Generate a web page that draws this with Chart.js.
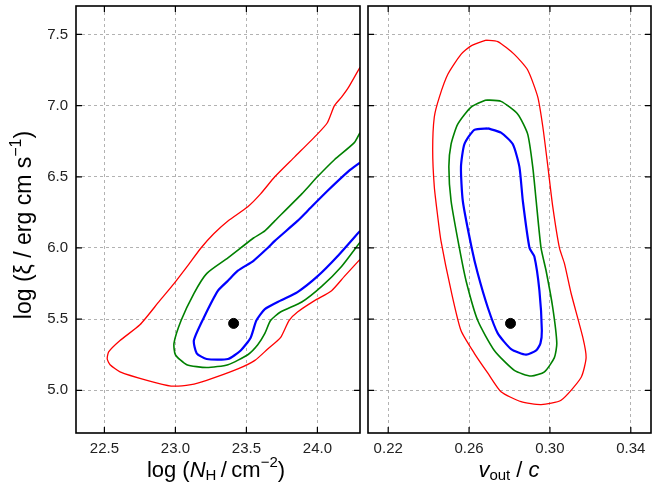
<!DOCTYPE html>
<html>
<head>
<meta charset="utf-8">
<script src="https://cdn.jsdelivr.net/npm/chart.js@4.4.1/dist/chart.umd.min.js"></script>
<style>
  body { margin:0; background:#fff; }
  #wrap { position:relative; width:668px; height:489px; }
  canvas { position:absolute; top:0; }
</style>
</head>
<body>
<div id="wrap">
  <canvas id="left" width="366" height="489" style="left:0"></canvas>
  <canvas id="right" width="306" height="489" style="left:362px"></canvas>
</div>
<script>
// tick values
const nhTicks  = [22.5, 23.0, 23.5, 24.0];
const xiTicks  = [5.0, 5.5, 6.0, 6.5, 7.0, 7.5];
const vTicks   = [0.22, 0.26, 0.30, 0.34];

// best fit
const bestNH = 23.41, bestXi = 5.47, bestV = 0.2805;

// log NH vs log xi contours
const nhRedX  = [24.30,24.22,24.17,24.12,24.07,24.00,23.84,23.70,23.60,23.51,23.37,23.27,23.18,23.09,22.99,22.89,22.75,22.61,22.53,22.52,22.54,22.61,22.80,22.97,23.11,23.22,23.44,23.56,23.65,23.74,23.80,23.86,23.98,24.10,24.19,24.30];
const nhRedY  = [7.27,7.13,7.06,7.00,6.88,6.80,6.64,6.50,6.38,6.29,6.19,6.10,6.00,5.88,5.75,5.63,5.46,5.35,5.27,5.22,5.18,5.13,5.07,5.03,5.04,5.07,5.15,5.21,5.29,5.37,5.49,5.55,5.63,5.70,5.80,5.92];
const nhGreenX = [24.30,24.26,24.12,24.00,23.89,23.70,23.63,23.55,23.46,23.37,23.22,23.13,23.04,22.99,23.00,23.08,23.22,23.37,23.51,23.58,23.63,23.67,23.74,23.89,24.03,24.17,24.30];
const nhGreenY = [6.81,6.74,6.62,6.50,6.38,6.19,6.12,6.07,6.00,5.93,5.82,5.68,5.49,5.33,5.25,5.18,5.16,5.18,5.25,5.32,5.40,5.49,5.55,5.62,5.73,5.87,6.04];
const nhBlueX = [24.30,24.22,24.07,23.93,23.86,23.70,23.65,23.55,23.44,23.37,23.30,23.20,23.13,23.15,23.22,23.37,23.46,23.53,23.57,23.63,23.74,23.86,24.00,24.14,24.30];
const nhBlueY = [6.60,6.54,6.40,6.26,6.19,6.05,6.00,5.91,5.84,5.77,5.70,5.51,5.35,5.26,5.22,5.22,5.28,5.37,5.49,5.57,5.63,5.69,5.80,5.94,6.12];

// v_out/c vs log xi contours
const vRedX = [0.2684,0.2742,0.2824,0.2890,0.2940,0.2965,0.2990,0.3014,0.3047,0.3072,0.3105,0.3163,0.3179,0.3154,0.3055,0.2956,0.2857,0.2758,0.2693,0.2626,0.2560,0.2511,0.2461,0.2445,0.2428,0.2420,0.2428,0.2453,0.2495,0.2560,0.2610,0.2684];
const vRedY = [7.46,7.45,7.36,7.25,7.06,6.85,6.57,6.29,6.00,5.89,5.68,5.37,5.23,5.09,4.93,4.90,4.92,4.99,5.12,5.26,5.42,5.70,6.05,6.22,6.43,6.69,6.92,7.06,7.22,7.36,7.42,7.46];
const vGreenX = [0.2684,0.2758,0.2841,0.2890,0.2915,0.2932,0.2956,0.2981,0.3014,0.3034,0.3022,0.2973,0.2907,0.2824,0.2725,0.2643,0.2585,0.2552,0.2511,0.2500,0.2511,0.2544,0.2610,0.2684];
const vGreenY = [7.04,7.03,6.94,6.80,6.57,6.33,6.00,5.84,5.58,5.33,5.23,5.13,5.10,5.14,5.28,5.49,5.77,6.00,6.33,6.57,6.73,6.87,6.99,7.04];
const vBlueX = [0.2693,0.2758,0.2816,0.2849,0.2866,0.2899,0.2923,0.2948,0.2960,0.2953,0.2932,0.2882,0.2808,0.2742,0.2693,0.2643,0.2613,0.2569,0.2560,0.2577,0.2626,0.2693];
const vBlueY = [6.84,6.81,6.73,6.57,6.33,6.00,5.94,5.70,5.42,5.33,5.28,5.25,5.29,5.40,5.58,5.82,6.00,6.33,6.57,6.73,6.83,6.84];

const FONT = '"Liberation Sans", Arial, sans-serif';
const zip = (xs, ys) => xs.map((x, i) => ({ x, y: ys[i] }));

function contour(xs, ys, color, width) {
  return { data: zip(xs, ys), showLine: true, borderColor: color, borderWidth: width,
           pointRadius: 0, tension: 0.2, fill: false };
}

function drawRich(ctx, parts, cx, cy, rot) {
  ctx.save();
  ctx.translate(cx, cy);
  if (rot) ctx.rotate(rot);
  ctx.fillStyle = '#000';
  ctx.textBaseline = 'middle';
  let total = 0;
  parts.forEach(p => { ctx.font = p.f; total += ctx.measureText(p.t).width; });
  let x = -total / 2;
  parts.forEach(p => {
    ctx.font = p.f;
    ctx.fillText(p.t, x, p.dy || 0);
    x += ctx.measureText(p.t).width;
  });
  ctx.restore();
}

function frameAndTicks(xTicks, yTicks) {
  return {
    id: 'frame',
    afterDraw(chart) {
      const { ctx, chartArea: a, scales } = chart;
      ctx.save();
      ctx.strokeStyle = '#000';
      ctx.lineWidth = 1.2;
      ctx.beginPath();
      xTicks.forEach(v => {
        const px = scales.x.getPixelForValue(v);
        ctx.moveTo(px, a.bottom); ctx.lineTo(px, a.bottom - 6);
        ctx.moveTo(px, a.top); ctx.lineTo(px, a.top + 6);
      });
      yTicks.forEach(v => {
        const py = scales.y.getPixelForValue(v);
        ctx.moveTo(a.left, py); ctx.lineTo(a.left + 6, py);
        ctx.moveTo(a.right, py); ctx.lineTo(a.right - 6, py);
      });
      ctx.stroke();
      ctx.lineWidth = 1.6;
      ctx.strokeRect(a.left, a.top, a.right - a.left, a.bottom - a.top);
      ctx.restore();
    }
  };
}

const gridOpts = { color: '#aaaaaa', lineWidth: 0.9, drawTicks: false };

function axes(xMin, xMax, xTicks, xDigits, showY) {
  return {
    x: {
      type: 'linear', min: xMin, max: xMax,
      afterBuildTicks: s => { s.ticks = xTicks.map(v => ({ value: v })); },
      afterFit: s => { s.height = 56; s.paddingLeft = 0; s.paddingRight = 0; },
      grid: gridOpts, border: { display: false, dash: [3, 3] },
      ticks: { color: '#222', padding: 7, font: { family: FONT, size: 15 },
               callback: v => v.toFixed(xDigits), maxRotation: 0 }
    },
    y: {
      type: 'linear', min: 4.7, max: 7.7,
      afterBuildTicks: s => { s.ticks = xiTicks.map(v => ({ value: v })); },
      afterFit: s => { s.width = showY ? 76 : 5; s.paddingTop = 0; s.paddingBottom = 0; },
      grid: gridOpts, border: { display: false, dash: [3, 3] },
      ticks: { display: showY, color: '#222', padding: 8, font: { family: FONT, size: 15 },
               callback: v => v.toFixed(1) }
    }
  };
}

const big = '22px ' + FONT, bigI = 'italic 22px ' + FONT, small = '15px ' + FONT;
const yBig = '23px ' + FONT, ySmall = '16px ' + FONT;

new Chart(document.getElementById('left'), {
  type: 'scatter',
  data: { datasets: [
    contour(nhRedX, nhRedY, '#ff0000', 1.3),
    contour(nhGreenX, nhGreenY, '#008000', 1.6),
    contour(nhBlueX, nhBlueY, '#0000ff', 2.2),
    { data: [{ x: bestNH, y: bestXi }], pointRadius: 5, backgroundColor: '#000', borderColor: '#000' }
  ] },
  options: {
    responsive: false, animation: false,
    layout: { padding: { top: 5, right: 3, left: 0, bottom: 0 } },
    plugins: { legend: { display: false }, tooltip: { enabled: false } },
    scales: axes(22.3, 24.3, nhTicks, 1, true)
  },
  plugins: [frameAndTicks(nhTicks, xiTicks), {
    id: 'titles',
    afterDraw(chart) {
      const ctx = chart.ctx;
      drawRich(ctx, [
        { t: 'log (', f: big }, { t: 'N', f: bigI }, { t: 'H', f: small, dy: 5 },
        { t: '\u2009/\u2009cm', f: big }, { t: '\u22122', f: small, dy: -8 }, { t: ')', f: big }
      ], 216, 471);
      drawRich(ctx, [
        { t: 'log (\u03be / erg cm s', f: yBig }, { t: '\u22121', f: ySmall, dy: -8 }, { t: ')', f: yBig }
      ], 25, 225, -Math.PI / 2);
    }
  }]
});

new Chart(document.getElementById('right'), {
  type: 'scatter',
  data: { datasets: [
    contour(vRedX, vRedY, '#ff0000', 1.3),
    contour(vGreenX, vGreenY, '#008000', 1.6),
    contour(vBlueX, vBlueY, '#0000ff', 2.2),
    { data: [{ x: bestV, y: bestXi }], pointRadius: 5, backgroundColor: '#000', borderColor: '#000' }
  ] },
  options: {
    responsive: false, animation: false,
    layout: { padding: { top: 5, right: 17, left: 0, bottom: 0 } },
    plugins: { legend: { display: false }, tooltip: { enabled: false } },
    scales: axes(0.21, 0.35, vTicks, 2, false)
  },
  plugins: [frameAndTicks(vTicks, xiTicks), {
    id: 'titles',
    afterDraw(chart) {
      drawRich(chart.ctx, [
        { t: 'v', f: bigI }, { t: 'out', f: small, dy: 5 }, { t: ' / ', f: big }, { t: 'c', f: bigI }
      ], 147, 471);
    }
  }]
});
</script>
</body>
</html>
